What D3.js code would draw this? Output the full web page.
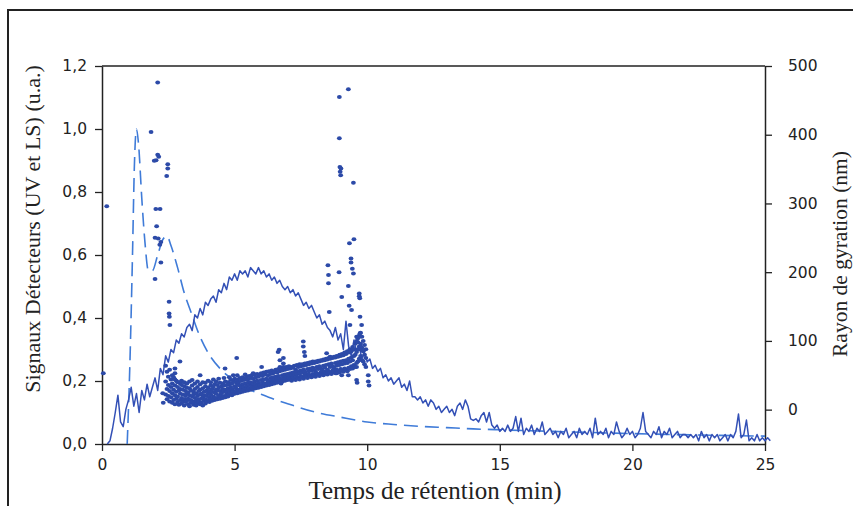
<!DOCTYPE html>
<html>
<head>
<meta charset="utf-8">
<script src="https://cdn.jsdelivr.net/npm/d3@7"></script>
<style>
  body { margin: 0; background: #fff; }
  svg { display: block; }
</style>
</head>
<body>
<div id="chart"></div>
<script>
// Retention time (min) axis ticks
const timeTicks = [0, 5, 10, 15, 20, 25];
const signalTicks = [0, 0.2, 0.4, 0.6, 0.8, 1.0, 1.2];
const radiusTicks = [0, 100, 200, 300, 400, 500];

// UV detector (dashed) : [time, signal]
const uvCurve = [
  [0.95, 0], [1.05, 0.25], [1.15, 0.6], [1.22, 0.88], [1.3, 1.0], [1.38, 0.95],
  [1.5, 0.78], [1.62, 0.64], [1.75, 0.55], [1.9, 0.55], [2.1, 0.6], [2.3, 0.65],
  [2.45, 0.66], [2.6, 0.63], [2.85, 0.56], [3.1, 0.48], [3.35, 0.42], [3.7, 0.34],
  [4.0, 0.29], [4.5, 0.235], [5.0, 0.2], [5.5, 0.175], [6.0, 0.158], [6.5, 0.142],
  [7.0, 0.128], [8.0, 0.102], [9.0, 0.085], [10.0, 0.07], [11.0, 0.062], [12.0, 0.056],
  [13.0, 0.052], [14.0, 0.048], [15.0, 0.045], [17.0, 0.04], [20.0, 0.033], [25.0, 0.025]
];

// LS detector (solid), one value every 0.1 min from 0.2 min
const lsStart = 0.2;
const lsStep = 0.1;
const lsSignal = [
  0.00, 0.01, 0.05, 0.10, 0.155, 0.07, 0.055, 0.11, 0.14, 0.18,
  0.12, 0.16, 0.10, 0.17, 0.14, 0.19, 0.15, 0.18, 0.21, 0.17,
  0.24, 0.22, 0.28, 0.26, 0.30, 0.29, 0.33, 0.32, 0.35, 0.34,
  0.37, 0.38, 0.36, 0.41, 0.40, 0.43, 0.41, 0.45, 0.44, 0.46,
  0.47, 0.45, 0.49, 0.48, 0.51, 0.49, 0.53, 0.52, 0.54, 0.52,
  0.55, 0.54, 0.55, 0.53, 0.56, 0.55, 0.54, 0.56, 0.54, 0.55,
  0.53, 0.54, 0.52, 0.53, 0.51, 0.52, 0.50, 0.49, 0.50, 0.48,
  0.49, 0.47, 0.48, 0.46, 0.44, 0.45, 0.43, 0.44, 0.42, 0.40,
  0.41, 0.38, 0.39, 0.37, 0.36, 0.34, 0.37, 0.33, 0.35, 0.30,
  0.39, 0.31, 0.28, 0.33, 0.29, 0.31, 0.27, 0.29, 0.26, 0.27,
  0.24, 0.25, 0.23, 0.24, 0.21, 0.22, 0.20, 0.21, 0.19, 0.20,
  0.21, 0.18, 0.19, 0.17, 0.20, 0.15, 0.15, 0.14, 0.15, 0.13,
  0.14, 0.12, 0.14, 0.13, 0.11, 0.12, 0.10, 0.11, 0.12, 0.10,
  0.11, 0.09, 0.12, 0.13, 0.11, 0.14, 0.12, 0.08, 0.075, 0.08,
  0.07, 0.09, 0.10, 0.07, 0.10, 0.06, 0.05, 0.06, 0.04, 0.05,
  0.04, 0.06, 0.04, 0.05, 0.087, 0.04, 0.082, 0.03, 0.05, 0.04,
  0.06, 0.03, 0.05, 0.04, 0.07, 0.03, 0.04, 0.05, 0.03, 0.04,
  0.02, 0.04, 0.03, 0.05, 0.02, 0.03, 0.04, 0.02, 0.05, 0.03,
  0.04, 0.03, 0.05, 0.02, 0.082, 0.03, 0.04, 0.03, 0.05, 0.02,
  0.04, 0.03, 0.07, 0.04, 0.02, 0.03, 0.05, 0.03, 0.04, 0.02,
  0.03, 0.05, 0.10, 0.04, 0.03, 0.02, 0.04, 0.03, 0.055, 0.02,
  0.04, 0.03, 0.05, 0.02, 0.03, 0.04, 0.02, 0.03, 0.03, 0.02,
  0.03, 0.02, 0.03, 0.01, 0.04, 0.02, 0.03, 0.01, 0.03, 0.02,
  0.03, 0.01, 0.02, 0.03, 0.01, 0.03, 0.02, 0.04, 0.095, 0.02,
  0.03, 0.076, 0.01, 0.02, 0.01, 0.03, 0.01, 0.02, 0.01, 0.02,
  0.01
];

// Radius of gyration (dots, right axis) : isolated points [time, nm]
const rgOutliers = [
  [0.18, 296], [0.05, 53],
  [2.10, 476], [1.85, 404], [2.10, 371], [2.14, 368], [2.04, 363], [1.97, 362],
  [2.48, 357], [2.48, 351], [2.44, 340],
  [2.03, 292], [2.19, 292], [2.06, 267], [2.00, 250], [2.12, 249], [2.22, 244],
  [2.18, 240], [2.22, 214], [2.00, 190],
  [2.53, 157], [2.53, 140], [2.54, 135], [2.56, 123],
  [2.29, 24], [2.31, 10], [2.75, 60], [2.75, 53], [2.94, 70], [3.19, 38],
  [3.70, 50], [4.64, 60], [5.08, 75], [4.95, 50], [6.02, 62],
  [6.64, 84], [6.71, 72], [6.71, 62],
  [8.95, 455], [9.29, 466], [8.95, 395], [8.97, 353], [9.01, 351], [8.98, 346],
  [9.0, 341], [9.48, 330],
  [9.33, 242], [9.50, 248], [9.39, 220], [9.39, 214], [9.44, 205], [9.48, 198],
  [8.52, 210], [8.54, 196], [8.54, 184], [8.94, 200], [9.29, 180], [9.04, 164],
  [9.70, 169], [9.70, 165], [9.72, 162],
  [9.32, 151], [9.41, 145], [8.57, 142], [9.73, 135], [9.35, 123], [9.79, 123],
  [9.73, 111], [9.6, 106], [9.65, 98], [9.75, 92], [9.8, 86], [9.68, 88],
  [8.47, 82], [8.60, 77], [8.97, 80], [7.59, 99], [7.59, 92], [7.63, 84], [7.65, 78],
  [6.68, 87], [6.84, 75], [6.84, 67], [6.84, 62],
  [9.60, 43], [9.62, 39], [10.04, 50], [10.04, 41], [10.07, 35],
  [8.85, 53], [9.04, 50], [9.29, 50], [9.6, 62]
];

// dense band of dots: [time, radius, radius, ...]
const rgBand = [
  [2.40, 64, 41, 22], [2.45, 55, 30, 15], [2.50, 48, 36, 20], [2.55, 58, 27, 12],
  [2.60, 44, 33, 18], [2.65, 38, 24, 10, 50], [2.70, 47, 29, 14], [2.75, 35, 21, 8, 44],
  [2.80, 42, 26, 16], [2.85, 33, 19, 11, 40], [2.90, 40, 28, 7], [2.95, 30, 23, 14, 38],
  [3.00, 36, 17, 9, 42], [3.05, 29, 22, 12], [3.10, 34, 15, 6, 40], [3.15, 27, 20, 11],
  [3.20, 32, 24, 13, 38], [3.25, 25, 16, 8], [3.30, 31, 21, 5, 41], [3.35, 28, 14, 10],
  [3.40, 35, 19, 12, 43], [3.45, 26, 22, 7], [3.50, 30, 17, 11, 38], [3.55, 24, 13, 6],
  [3.60, 33, 20, 9, 41], [3.65, 27, 15, 12], [3.70, 29, 22, 8, 37], [3.75, 23, 16, 10],
  [3.80, 31, 18, 6, 40], [3.85, 26, 21, 13], [3.90, 34, 15, 9, 39], [3.95, 28, 20, 12],
  [4.00, 32, 24, 14, 42], [4.05, 27, 18, 11], [4.10, 35, 22, 15, 40], [4.15, 30, 26, 13],
  [4.20, 33, 19, 16, 44], [4.25, 37, 25, 14], [4.30, 29, 23, 17, 41], [4.35, 36, 28, 15],
  [4.40, 32, 21, 18, 45], [4.45, 39, 27, 16], [4.50, 34, 24, 19], [4.55, 38, 30, 17],
  [4.60, 35, 26, 20, 46], [4.65, 41, 29, 18], [4.70, 36, 25, 21], [4.75, 40, 31, 19],
  [4.80, 37, 28, 22, 47], [4.85, 43, 33, 24], [4.90, 38, 30, 21], [4.95, 42, 27, 25],
  [5.00, 45, 34, 23], [5.05, 40, 31, 26], [5.10, 44, 36, 24, 50], [5.15, 39, 29, 27],
  [5.20, 46, 35, 25], [5.25, 42, 32, 28], [5.30, 47, 37, 26], [5.35, 43, 33, 29],
  [5.40, 45, 38, 27, 51], [5.45, 48, 34, 30], [5.50, 44, 39, 28], [5.55, 49, 36, 31],
  [5.60, 46, 40, 29], [5.65, 50, 35, 32], [5.70, 45, 38, 30, 53], [5.75, 51, 41, 33],
  [5.80, 47, 37, 31], [5.85, 52, 42, 34], [5.90, 48, 39, 32], [5.95, 50, 36, 35],
  [6.00, 53, 43, 33], [6.05, 49, 40, 36], [6.10, 54, 44, 34], [6.15, 51, 38, 37],
  [6.20, 55, 45, 35], [6.25, 50, 42, 38], [6.30, 56, 41, 36], [6.35, 52, 46, 39],
  [6.40, 57, 43, 37], [6.45, 53, 47, 40], [6.50, 55, 44, 38], [6.55, 58, 48, 41],
  [6.60, 54, 45, 39], [6.65, 59, 49, 42], [6.70, 56, 46, 40], [6.75, 60, 43, 38],
  [6.80, 57, 50, 41], [6.85, 61, 47, 44], [6.90, 58, 51, 42], [6.95, 62, 48, 45],
  [7.00, 59, 52, 43], [7.05, 63, 49, 46], [7.10, 60, 53, 44], [7.15, 62, 50, 42],
  [7.20, 61, 54, 47], [7.25, 64, 51, 45], [7.30, 58, 55, 43], [7.35, 65, 52, 48],
  [7.40, 62, 56, 46], [7.45, 66, 53, 44], [7.50, 63, 57, 49], [7.55, 66, 54, 47],
  [7.60, 64, 58, 45], [7.65, 67, 55, 50], [7.70, 65, 52, 48], [7.75, 68, 59, 46],
  [7.80, 66, 56, 51], [7.85, 69, 60, 49], [7.90, 67, 57, 47], [7.95, 70, 61, 52],
  [8.00, 68, 58, 50], [8.05, 70, 55, 48], [8.10, 69, 62, 53], [8.15, 71, 59, 51],
  [8.20, 70, 63, 49], [8.25, 72, 60, 54], [8.30, 71, 57, 52], [8.35, 73, 64, 50],
  [8.40, 72, 61, 55], [8.45, 74, 65, 53], [8.50, 73, 58, 51], [8.55, 75, 66, 56],
  [8.60, 74, 62, 54], [8.65, 76, 67, 52], [8.70, 75, 63, 57], [8.75, 77, 60, 55],
  [8.80, 76, 68, 53], [8.85, 78, 64, 58], [8.90, 77, 69, 56], [8.95, 79, 65, 54],
  [9.00, 78, 70, 59], [9.05, 81, 66, 57], [9.10, 79, 71, 55], [9.15, 83, 67, 60],
  [9.20, 81, 72, 58], [9.25, 85, 68, 56], [9.30, 83, 74, 61], [9.35, 88, 70, 59],
  [9.40, 85, 76, 63], [9.45, 91, 72, 60], [9.50, 88, 78, 65], [9.55, 96, 80, 62],
  [9.60, 100, 84, 68], [9.65, 104, 88, 70], [9.70, 108, 92, 74], [9.75, 112, 96, 78],
  [9.80, 106, 90, 72], [9.85, 100, 85, 70], [9.90, 94, 80, 66], [9.95, 88, 75, 62]
];

const W = 853, H = 506;
const plot = {left: 102, right: 765, top: 66, bottom: 444};

const svg = d3.select("#chart").append("svg")
  .attr("width", W)
  .attr("height", H);

// outer frame of the figure
svg.append("rect")
  .attr("x", 8).attr("y", 10)
  .attr("width", 900).attr("height", 560)
  .attr("fill", "#fff")
  .attr("stroke", "#222")
  .attr("stroke-width", 2);

const x = d3.scaleLinear().domain([0, 25]).range([plot.left, plot.right]);
const yL = d3.scaleLinear().domain([0, 1.2]).range([plot.bottom, plot.top]);
const yR = d3.scaleLinear().domain([-50, 500]).range([plot.bottom, plot.top]);

const fr = d3.formatLocale({decimal: ",", thousands: " ", grouping: [3], currency: ["", "€"]});
const fmt1 = fr.format(".1f");

const tickFont = "'DejaVu Sans', sans-serif";

// top frame line
svg.append("line")
  .attr("x1", plot.left).attr("x2", plot.right)
  .attr("y1", plot.top).attr("y2", plot.top)
  .attr("stroke", "#222").attr("stroke-width", 1.5);

const gx = svg.append("g")
  .attr("transform", `translate(0,${plot.bottom})`)
  .call(d3.axisBottom(x).tickValues(timeTicks).tickSize(7).tickPadding(8).tickSizeOuter(0));

const gl = svg.append("g")
  .attr("transform", `translate(${plot.left},0)`)
  .call(d3.axisLeft(yL).tickValues(signalTicks).tickFormat(fmt1).tickSize(7).tickPadding(8).tickSizeOuter(0));

const gr = svg.append("g")
  .attr("transform", `translate(${plot.right},0)`)
  .call(d3.axisRight(yR).tickValues(radiusTicks).tickSize(7).tickPadding(16).tickSizeOuter(0));

[gx, gl, gr].forEach(g => {
  g.select(".domain").attr("stroke", "#222").attr("stroke-width", 1.5);
  g.selectAll(".tick line").attr("stroke", "#222").attr("stroke-width", 1.3);
  g.selectAll(".tick text")
    .attr("fill", "#222")
    .style("font-family", tickFont)
    .style("font-size", "15.5px");
});

// UV dashed curve
const lineUV = d3.line()
  .x(d => x(d[0]))
  .y(d => yL(d[1]))
  .curve(d3.curveMonotoneX);

svg.append("path")
  .datum(uvCurve)
  .attr("d", lineUV)
  .attr("fill", "none")
  .attr("stroke", "#3f7bd8")
  .attr("stroke-width", 1.6)
  .attr("stroke-dasharray", "14,7");

// LS solid noisy curve
const lineLS = d3.line()
  .x((d, i) => x(lsStart + i * lsStep))
  .y(d => yL(d));

svg.append("path")
  .datum(lsSignal)
  .attr("d", lineLS)
  .attr("fill", "none")
  .attr("stroke", "#3350b6")
  .attr("stroke-width", 1.5)
  .attr("stroke-linejoin", "round");

// dots
const rgAll = [];
rgBand.forEach(row => row.slice(1).forEach(r => rgAll.push([row[0], r])));
rgOutliers.forEach(d => rgAll.push(d));

svg.append("g")
  .selectAll("ellipse")
  .data(rgAll)
  .enter()
  .append("ellipse")
  .attr("cx", d => x(d[0]))
  .attr("cy", d => yR(d[1]))
  .attr("rx", 2.4)
  .attr("ry", 2.0)
  .attr("fill", "#2c4aa8");

// axis titles
const serif = "'Liberation Serif', 'Times New Roman', serif";

svg.append("text")
  .attr("transform", "translate(40,229) rotate(-90)")
  .attr("text-anchor", "middle")
  .style("font-family", serif)
  .style("font-size", "22px")
  .attr("fill", "#222")
  .text("Signaux Détecteurs (UV et LS) (u.a.)");

svg.append("text")
  .attr("transform", "translate(847,254) rotate(-90)")
  .attr("text-anchor", "middle")
  .style("font-family", serif)
  .style("font-size", "21.5px")
  .attr("fill", "#222")
  .text("Rayon de gyration (nm)");

svg.append("text")
  .attr("x", 435)
  .attr("y", 499)
  .attr("text-anchor", "middle")
  .style("font-family", serif)
  .style("font-size", "25px")
  .attr("fill", "#222")
  .text("Temps de rétention (min)");
</script>
</body>
</html>
